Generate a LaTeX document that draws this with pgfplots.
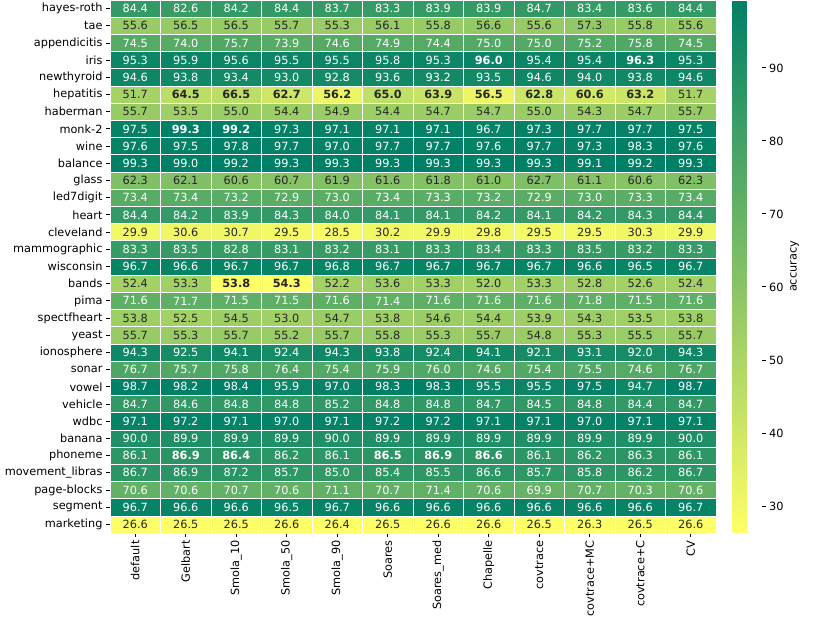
\documentclass[border=0pt]{standalone}
\usepackage{pgfplots}
\pgfplotsset{compat=1.18}
\usepackage{pgfplotstable}
\usepackage{fontspec}
\setmainfont{DejaVu Sans}
\definecolor{txtdark}{HTML}{262626}
\pgfplotsset{/pgf/number format/assume math mode=true}
\newcommand{\fs}{\fontsize{11.3}{13.5}\selectfont}
\pgfdeclareplotmark{cell}{%
  \pgfpathrectangle{\pgfpoint{-25.25pt}{-8.597pt}}{\pgfpoint{50.5pt}{17.194pt}}%
  \pgfusepathqfillstroke}
\pgfplotstableread{
r x v c b
0 0 84.4 84.4 0
0 1 82.6 82.6 0
0 2 84.2 84.2 0
0 3 84.4 84.4 0
0 4 83.7 83.7 0
0 5 83.3 83.3 0
0 6 83.9 83.9 0
0 7 83.9 83.9 0
0 8 84.7 84.7 0
0 9 83.4 83.4 0
0 10 83.6 83.6 0
0 11 84.4 84.4 0
1 0 55.6 55.6 0
1 1 56.5 56.5 0
1 2 56.5 56.5 0
1 3 55.7 55.7 0
1 4 55.3 55.3 0
1 5 56.1 56.1 0
1 6 55.8 55.8 0
1 7 56.6 56.6 0
1 8 55.6 55.6 0
1 9 57.3 57.3 0
1 10 55.8 55.8 0
1 11 55.6 55.6 0
2 0 74.5 74.5 0
2 1 74.0 74.0 0
2 2 75.7 75.7 0
2 3 73.9 73.9 0
2 4 74.6 74.6 0
2 5 74.9 74.9 0
2 6 74.4 74.4 0
2 7 75.0 75.0 0
2 8 75.0 75.0 0
2 9 75.2 75.2 0
2 10 75.8 75.8 0
2 11 74.5 74.5 0
3 0 95.3 95.3 0
3 1 95.9 95.9 0
3 2 95.6 95.6 0
3 3 95.5 95.5 0
3 4 95.5 95.5 0
3 5 95.8 95.8 0
3 6 95.3 95.3 0
3 7 96.0 96.0 1
3 8 95.4 95.4 0
3 9 95.4 95.4 0
3 10 96.3 96.3 1
3 11 95.3 95.3 0
4 0 94.6 94.6 0
4 1 93.8 93.8 0
4 2 93.4 93.4 0
4 3 93.0 93.0 0
4 4 92.8 92.8 0
4 5 93.6 93.6 0
4 6 93.2 93.2 0
4 7 93.5 93.5 0
4 8 94.6 94.6 0
4 9 94.0 94.0 0
4 10 93.8 93.8 0
4 11 94.6 94.6 0
5 0 51.7 51.7 0
5 1 64.5 45.0 1
5 2 66.5 45.0 1
5 3 62.7 40.0 1
5 4 56.2 32.0 1
5 5 65.0 44.0 1
5 6 63.9 42.0 1
5 7 56.5 32.0 1
5 8 62.8 41.0 1
5 9 60.6 39.0 1
5 10 63.2 41.0 1
5 11 51.7 51.7 0
6 0 55.7 55.7 0
6 1 53.5 53.5 0
6 2 55.0 55.0 0
6 3 54.4 54.4 0
6 4 54.9 54.9 0
6 5 54.4 54.4 0
6 6 54.7 54.7 0
6 7 54.7 54.7 0
6 8 55.0 55.0 0
6 9 54.3 54.3 0
6 10 54.7 54.7 0
6 11 55.7 55.7 0
7 0 97.5 97.5 0
7 1 99.3 99.3 1
7 2 99.2 99.2 1
7 3 97.3 97.3 0
7 4 97.1 97.1 0
7 5 97.1 97.1 0
7 6 97.1 97.1 0
7 7 96.7 96.7 0
7 8 97.3 97.3 0
7 9 97.7 97.7 0
7 10 97.7 97.7 0
7 11 97.5 97.5 0
8 0 97.6 97.6 0
8 1 97.5 97.5 0
8 2 97.8 97.8 0
8 3 97.7 97.7 0
8 4 97.0 97.0 0
8 5 97.7 97.7 0
8 6 97.7 97.7 0
8 7 97.6 97.6 0
8 8 97.7 97.7 0
8 9 97.3 97.3 0
8 10 98.3 98.3 0
8 11 97.6 97.6 0
9 0 99.3 99.3 0
9 1 99.0 99.0 0
9 2 99.2 99.2 0
9 3 99.3 99.3 0
9 4 99.3 99.3 0
9 5 99.3 99.3 0
9 6 99.3 99.3 0
9 7 99.3 99.3 0
9 8 99.3 99.3 0
9 9 99.1 99.1 0
9 10 99.2 99.2 0
9 11 99.3 99.3 0
10 0 62.3 62.3 0
10 1 62.1 62.1 0
10 2 60.6 60.6 0
10 3 60.7 60.7 0
10 4 61.9 61.9 0
10 5 61.6 61.6 0
10 6 61.8 61.8 0
10 7 61.0 61.0 0
10 8 62.7 62.7 0
10 9 61.1 61.1 0
10 10 60.6 60.6 0
10 11 62.3 62.3 0
11 0 73.4 73.4 0
11 1 73.4 73.4 0
11 2 73.2 73.2 0
11 3 72.9 72.9 0
11 4 73.0 73.0 0
11 5 73.4 73.4 0
11 6 73.3 73.3 0
11 7 73.2 73.2 0
11 8 72.9 72.9 0
11 9 73.0 73.0 0
11 10 73.3 73.3 0
11 11 73.4 73.4 0
12 0 84.4 84.4 0
12 1 84.2 84.2 0
12 2 83.9 83.9 0
12 3 84.3 84.3 0
12 4 84.0 84.0 0
12 5 84.1 84.1 0
12 6 84.1 84.1 0
12 7 84.2 84.2 0
12 8 84.1 84.1 0
12 9 84.2 84.2 0
12 10 84.3 84.3 0
12 11 84.4 84.4 0
13 0 29.9 29.9 0
13 1 30.6 30.6 0
13 2 30.7 30.7 0
13 3 29.5 29.5 0
13 4 28.5 28.5 0
13 5 30.2 30.2 0
13 6 29.9 29.9 0
13 7 29.8 29.8 0
13 8 29.5 29.5 0
13 9 29.5 29.5 0
13 10 30.3 30.3 0
13 11 29.9 29.9 0
14 0 83.3 83.3 0
14 1 83.5 83.5 0
14 2 82.8 82.8 0
14 3 83.1 83.1 0
14 4 83.2 83.2 0
14 5 83.1 83.1 0
14 6 83.3 83.3 0
14 7 83.4 83.4 0
14 8 83.3 83.3 0
14 9 83.5 83.5 0
14 10 83.2 83.2 0
14 11 83.3 83.3 0
15 0 96.7 96.7 0
15 1 96.6 96.6 0
15 2 96.7 96.7 0
15 3 96.7 96.7 0
15 4 96.8 96.8 0
15 5 96.7 96.7 0
15 6 96.7 96.7 0
15 7 96.7 96.7 0
15 8 96.7 96.7 0
15 9 96.6 96.6 0
15 10 96.5 96.5 0
15 11 96.7 96.7 0
16 0 52.4 52.4 0
16 1 53.3 53.3 0
16 2 53.8 26.5 1
16 3 54.3 26.5 1
16 4 52.2 52.2 0
16 5 53.6 53.6 0
16 6 53.3 53.3 0
16 7 52.0 52.0 0
16 8 53.3 53.3 0
16 9 52.8 52.8 0
16 10 52.6 52.6 0
16 11 52.4 52.4 0
17 0 71.6 71.6 0
17 1 71.7 71.7 0
17 2 71.5 71.5 0
17 3 71.5 71.5 0
17 4 71.6 71.6 0
17 5 71.4 71.4 0
17 6 71.6 71.6 0
17 7 71.6 71.6 0
17 8 71.6 71.6 0
17 9 71.8 71.8 0
17 10 71.5 71.5 0
17 11 71.6 71.6 0
18 0 53.8 53.8 0
18 1 52.5 52.5 0
18 2 54.5 54.5 0
18 3 53.0 53.0 0
18 4 54.7 54.7 0
18 5 53.8 53.8 0
18 6 54.6 54.6 0
18 7 54.4 54.4 0
18 8 53.9 53.9 0
18 9 54.3 54.3 0
18 10 53.5 53.5 0
18 11 53.8 53.8 0
19 0 55.7 55.7 0
19 1 55.3 55.3 0
19 2 55.7 55.7 0
19 3 55.2 55.2 0
19 4 55.7 55.7 0
19 5 55.8 55.8 0
19 6 55.3 55.3 0
19 7 55.7 55.7 0
19 8 54.8 54.8 0
19 9 55.3 55.3 0
19 10 55.5 55.5 0
19 11 55.7 55.7 0
20 0 94.3 94.3 0
20 1 92.5 92.5 0
20 2 94.1 94.1 0
20 3 92.4 92.4 0
20 4 94.3 94.3 0
20 5 93.8 93.8 0
20 6 92.4 92.4 0
20 7 94.1 94.1 0
20 8 92.1 92.1 0
20 9 93.1 93.1 0
20 10 92.0 92.0 0
20 11 94.3 94.3 0
21 0 76.7 76.7 0
21 1 75.7 75.7 0
21 2 75.8 75.8 0
21 3 76.4 76.4 0
21 4 75.4 75.4 0
21 5 75.9 75.9 0
21 6 76.0 76.0 0
21 7 74.6 74.6 0
21 8 75.4 75.4 0
21 9 75.5 75.5 0
21 10 74.6 74.6 0
21 11 76.7 76.7 0
22 0 98.7 98.7 0
22 1 98.2 98.2 0
22 2 98.4 98.4 0
22 3 95.9 95.9 0
22 4 97.0 97.0 0
22 5 98.3 98.3 0
22 6 98.3 98.3 0
22 7 95.5 95.5 0
22 8 95.5 95.5 0
22 9 97.5 97.5 0
22 10 94.7 94.7 0
22 11 98.7 98.7 0
23 0 84.7 84.7 0
23 1 84.6 84.6 0
23 2 84.8 84.8 0
23 3 84.8 84.8 0
23 4 85.2 85.2 0
23 5 84.8 84.8 0
23 6 84.8 84.8 0
23 7 84.7 84.7 0
23 8 84.5 84.5 0
23 9 84.8 84.8 0
23 10 84.4 84.4 0
23 11 84.7 84.7 0
24 0 97.1 97.1 0
24 1 97.2 97.2 0
24 2 97.1 97.1 0
24 3 97.0 97.0 0
24 4 97.1 97.1 0
24 5 97.2 97.2 0
24 6 97.2 97.2 0
24 7 97.1 97.1 0
24 8 97.1 97.1 0
24 9 97.0 97.0 0
24 10 97.1 97.1 0
24 11 97.1 97.1 0
25 0 90.0 90.0 0
25 1 89.9 89.9 0
25 2 89.9 89.9 0
25 3 89.9 89.9 0
25 4 90.0 90.0 0
25 5 89.9 89.9 0
25 6 89.9 89.9 0
25 7 89.9 89.9 0
25 8 89.9 89.9 0
25 9 89.9 89.9 0
25 10 89.9 89.9 0
25 11 90.0 90.0 0
26 0 86.1 86.1 0
26 1 86.9 86.9 1
26 2 86.4 86.4 1
26 3 86.2 86.2 0
26 4 86.1 86.1 0
26 5 86.5 86.5 1
26 6 86.9 86.9 1
26 7 86.6 86.6 1
26 8 86.1 86.1 0
26 9 86.2 86.2 0
26 10 86.3 86.3 0
26 11 86.1 86.1 0
27 0 86.7 86.7 0
27 1 86.9 86.9 0
27 2 87.2 87.2 0
27 3 85.7 85.7 0
27 4 85.0 85.0 0
27 5 85.4 85.4 0
27 6 85.5 85.5 0
27 7 86.6 86.6 0
27 8 85.7 85.7 0
27 9 85.8 85.8 0
27 10 86.2 86.2 0
27 11 86.7 86.7 0
28 0 70.6 70.6 0
28 1 70.6 70.6 0
28 2 70.7 70.7 0
28 3 70.6 70.6 0
28 4 71.1 71.1 0
28 5 70.7 70.7 0
28 6 71.4 71.4 0
28 7 70.6 70.6 0
28 8 69.9 69.9 0
28 9 70.7 70.7 0
28 10 70.3 70.3 0
28 11 70.6 70.6 0
29 0 96.7 96.7 0
29 1 96.6 96.6 0
29 2 96.6 96.6 0
29 3 96.5 96.5 0
29 4 96.7 96.7 0
29 5 96.6 96.6 0
29 6 96.6 96.6 0
29 7 96.6 96.6 0
29 8 96.6 96.6 0
29 9 96.6 96.6 0
29 10 96.6 96.6 0
29 11 96.7 96.7 0
30 0 26.6 26.6 0
30 1 26.5 26.5 0
30 2 26.5 26.5 0
30 3 26.6 26.6 0
30 4 26.4 26.4 0
30 5 26.5 26.5 0
30 6 26.6 26.6 0
30 7 26.6 26.6 0
30 8 26.5 26.5 0
30 9 26.3 26.3 0
30 10 26.5 26.5 0
30 11 26.6 26.6 0
}\hmdata
\pgfplotsset{
  celltext/.style={only marks, mark=none, point meta=explicit symbolic,
    nodes near coords,
    every node near coord/.append style={anchor=center, inner sep=0pt, font=\fs #1}},
}
\begin{document}
\begin{tikzpicture}
\begin{axis}[
  scale only axis, width=606pt, height=533pt,
  xmin=-0.5, xmax=11.5, ymin=-0.5, ymax=30.5,
  axis line style={draw=none},
  colormap={summerr}{rgb=(1,1,0.4) rgb=(0,0.5,0.4)},
  point meta min=26.3, point meta max=99.3,
  xtick={0,...,11},
  xticklabels={default,Gelbart,Smola\_10,Smola\_50,Smola\_90,Soares,Soares\_med,Chapelle,covtrace,covtrace+MC,covtrace+C,CV},
  ytick={0,...,30},
  yticklabels={marketing,segment,page-blocks,movement\_libras,phoneme,banana,wdbc,vehicle,vowel,sonar,ionosphere,yeast,spectfheart,pima,bands,wisconsin,mammographic,cleveland,heart,led7digit,glass,balance,wine,monk-2,haberman,hepatitis,newthyroid,iris,appendicitis,tae,hayes-roth},
  xticklabel style={rotate=90, anchor=east},
  tick align=outside, xtick pos=left, ytick pos=left,
  major tick length=4pt, tick style={black, line width=0.9pt},
  ticklabel style={font=\fs},
  colorbar,
  colorbar style={
    scale only axis, width=29pt, height=533pt,
    at={(parent axis.north east)}, anchor=north west, xshift=8pt,
    axis line style={draw=none},
    ytick={30,40,...,90},
    yticklabel pos=right, ytick pos=right,
    tick align=outside, major tick length=4pt, tick style={black, line width=0.9pt},
    yticklabel style={font=\fs},
    ylabel={accuracy}, ylabel style={font=\fs},
  },
]
\addplot[scatter, only marks, mark=cell, point meta=explicit,
  scatter/use mapped color={draw=white, fill=mapped color},
  mark options={line width=0.6pt}]
  table[x=x, y expr=30-\thisrow{r}, meta=c]{\hmdata};
% dark, regular
\addplot[celltext={\color{txtdark}}]
  table[x expr={and(\thisrow{b}==0, \thisrow{v}<68) ? \thisrow{x} : nan}, y expr=30-\thisrow{r}, meta=v]{\hmdata};
% dark, bold
\addplot[celltext={\color{txtdark}\bfseries}]
  table[x expr={and(\thisrow{b}==1, \thisrow{v}<68) ? \thisrow{x} : nan}, y expr=30-\thisrow{r}, meta=v]{\hmdata};
% white, regular
\addplot[celltext={\color{white}}]
  table[x expr={and(\thisrow{b}==0, \thisrow{v}>68) ? \thisrow{x} : nan}, y expr=30-\thisrow{r}, meta=v]{\hmdata};
% white, bold
\addplot[celltext={\color{white}\bfseries}]
  table[x expr={and(\thisrow{b}==1, \thisrow{v}>68) ? \thisrow{x} : nan}, y expr=30-\thisrow{r}, meta=v]{\hmdata};
\coordinate (bl) at (rel axis cs:0,0);
\coordinate (tr) at (rel axis cs:1,1);
\end{axis}
\pgfresetboundingbox
\path ([xshift=-110pt,yshift=-90pt]bl) rectangle ([xshift=114pt]tr);
\end{tikzpicture}
\end{document}
